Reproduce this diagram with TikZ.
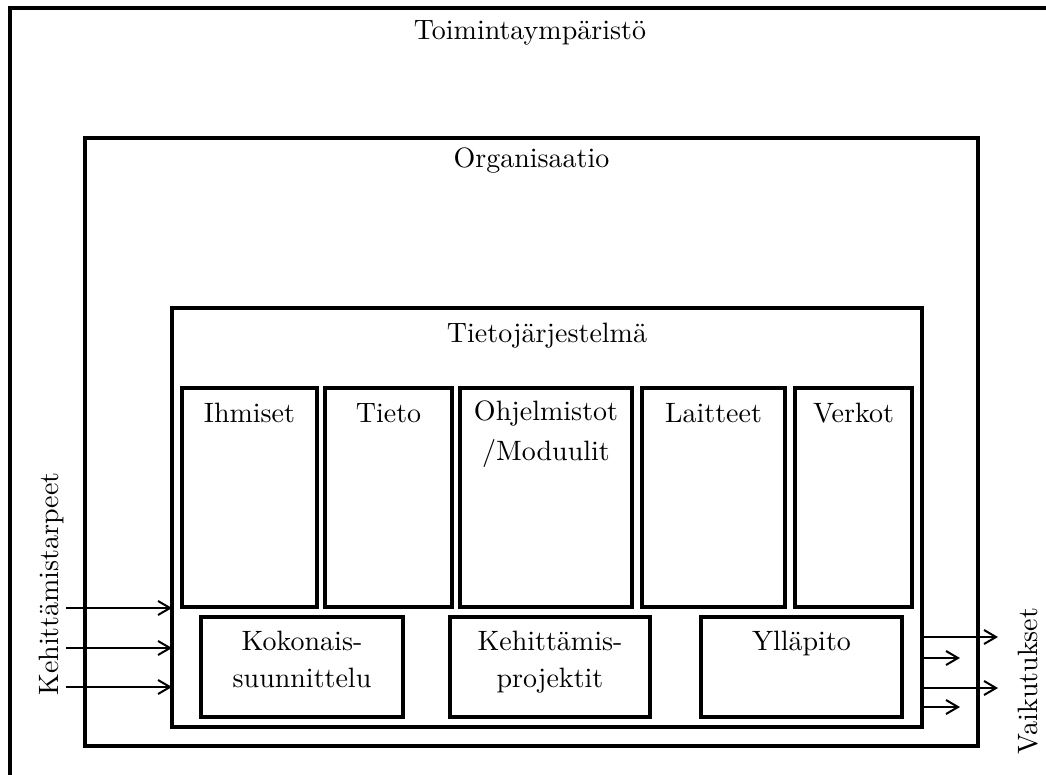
\documentclass[tikz,border=0pt]{standalone}
\usepackage{fontspec}
\usetikzlibrary{arrows.meta}

% 10pt optical design of Latin Modern, scaled up, for all chart texts
\newfontfamily\chartface{lmroman10-regular.otf}
\newcommand{\chartfont}{\chartface\fontsize{28}{37}\selectfont}
% centred text block whose reference point is the first line's baseline
\newcommand{\stack}[1]{\begin{tabular}[t]{@{}c@{}}#1\end{tabular}}

\tikzset{
  frame/.style={line width=4pt},
  box/.style={draw, line width=3.5pt, inner sep=0pt, outer sep=0pt, anchor=north west},
  lbl/.style={font=\chartfont, anchor=base, inner sep=0pt, outer sep=0pt},
  arr/.style={line width=2pt, -{Straight Barb[length=12pt,width=14pt,line width=2pt]}},
}

\begin{document}
\begin{tikzpicture}[x=1pt, y=-1pt]
  \useasboundingbox (0,0) rectangle (1046,774);
  \clip (0,0) rectangle (1046,774);

  % operating environment: open frame running off the page
  \draw[frame] (1050,8) -- (10,8) -- (10,780);
  \node[lbl] (env) at (530,39) {Toimintaympäristö};

  % organisation
  \node[box, line width=4pt, minimum width=893pt, minimum height=608pt] (org) at (85,138) {};
  \node[lbl] (orgtxt) at (531.5,167) {Organisaatio};

  % information system
  \node[box, minimum width=750pt, minimum height=419pt] (tj) at (172,308) {};
  \node[lbl] (tjtxt) at (547,342) {Tietojärjestelmä};

  % components of the information system
  \node[box, minimum width=135pt, minimum height=219pt] (ihm) at (182,388) {};
  \node[box, minimum width=127pt, minimum height=219pt] (tie) at (325,388) {};
  \node[box, minimum width=172pt, minimum height=219pt] (ohj) at (460,388) {};
  \node[box, minimum width=143pt, minimum height=219pt] (lai) at (642,388) {};
  \node[box, minimum width=117pt, minimum height=219pt] (ver) at (795,388) {};
  \node[lbl] (ihmtxt) at (249.5,422) {Ihmiset};
  \node[lbl] (tietxt) at (388.5,422) {Tieto};
  \node[lbl] (ohjtxt) at (546,420) {\stack{Ohjelmistot\\[3pt]/Moduulit}};
  \node[lbl] (laitxt) at (713.5,422) {Laitteet};
  \node[lbl] (vertxt) at (853.5,422) {Verkot};

  % development activities
  \node[box, minimum width=202pt, minimum height=100pt] (kok) at (201,617) {};
  \node[box, minimum width=200pt, minimum height=100pt] (keh) at (450,617) {};
  \node[box, minimum width=201pt, minimum height=100pt] (yll) at (701,617) {};
  \node[lbl] (koktxt) at (302,650) {\stack{Kokonais-\\suunnittelu}};
  \node[lbl] (kehtxt) at (550,650) {\stack{Kehittämis-\\projektit}};
  \node[lbl] (ylltxt) at (801.5,650) {Ylläpito};

  % development needs coming in
  \node[lbl, rotate=90] (needs) at (58,584) {Kehittämistarpeet};
  \coordinate (in1) at (66,608);
  \coordinate (in2) at (66,648);
  \coordinate (in3) at (66,687);
  \draw[arr] (in1) -- (in1 -| tj.west);
  \draw[arr] (in2) -- (in2 -| tj.west);
  \draw[arr] (in3) -- (in3 -| tj.west);

  % effects going out
  \node[lbl, rotate=90] (effects) at (1037,681) {Vaikutukset};
  \coordinate (out1) at (998,637);
  \coordinate (out2) at (960,658);
  \coordinate (out3) at (998,688);
  \coordinate (out4) at (960,707);
  \draw[arr] (out1 -| tj.east) -- (out1);
  \draw[arr] (out2 -| tj.east) -- (out2);
  \draw[arr] (out3 -| tj.east) -- (out3);
  \draw[arr] (out4 -| tj.east) -- (out4);
\end{tikzpicture}
\end{document}
